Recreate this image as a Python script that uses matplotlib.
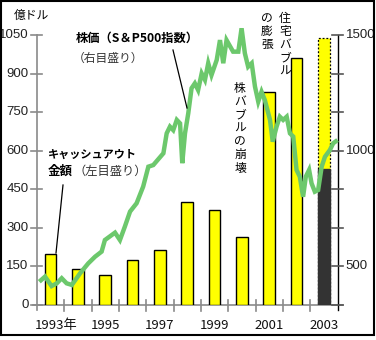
import matplotlib
matplotlib.use("Agg")
import matplotlib.pyplot as plt
from matplotlib.patches import Rectangle
from matplotlib.lines import Line2D

# --- data ---------------------------------------------------------------
years = [1993, 1994, 1995, 1996, 1997, 1998, 1999, 2000, 2001, 2002, 2003]
cashout = [200, 140, 115, 175, 215, 400, 370, 263, 830, 960, 530]   # 億ドル
cashout_2003_full = 1040                                              # 2003 full-year estimate

# S&P500 index (right scale), time as decimal year
sp_t = [1993.09, 1993.30, 1993.54, 1993.73, 1993.91, 1994.09, 1994.28, 1994.58,
        1994.88, 1995.13, 1995.37, 1995.49, 1995.86, 1996.04, 1996.22, 1996.41,
        1996.65, 1996.89, 1997.08, 1997.26, 1997.63, 1997.75, 1997.87, 1997.99,
        1998.12, 1998.24, 1998.32, 1998.42, 1998.54, 1998.66, 1998.78, 1998.90,
        1999.03, 1999.15, 1999.27, 1999.39, 1999.58, 1999.70, 1999.82, 1999.94,
        2000.18, 2000.37, 2000.49, 2000.61, 2000.73, 2000.86, 2000.98, 2001.10,
        2001.22, 2001.34, 2001.53, 2001.63, 2001.77, 2001.89, 2002.01, 2002.14,
        2002.26, 2002.38, 2002.50, 2002.62, 2002.74, 2002.84, 2002.96, 2003.05,
        2003.17, 2003.29, 2003.42, 2003.54, 2003.72, 2003.84, 2004.00]
sp_v = [434, 456, 415, 427, 449, 427, 420, 470,
        513, 542, 564, 614, 646, 614, 672, 737,
        773, 845, 931, 938, 989, 1075, 1104, 1089,
        1133, 1118, 946, 1075, 1162, 1270, 1291, 1262,
        1334, 1306, 1378, 1327, 1392, 1478, 1378, 1478,
        1428, 1428, 1529, 1421, 1363, 1378, 1277, 1212,
        1255, 1219, 1133, 1039, 1104, 1147, 1133, 1147,
        1075, 1061, 917, 888, 801, 888, 917, 859,
        823, 830, 931, 974, 1003, 1032, 1046]

left_ticks = [0, 150, 300, 450, 600, 750, 900, 1050]
right_labels = [500, 1000, 1500]
year_labels = ["1993年", "1995", "1997", "1999", "2001", "2003"]
year_label_pos = [1993.70, 1995.5, 1997.5, 1999.5, 2001.5, 2003.5]

# --- figure -------------------------------------------------------------
W, H = 376, 340
fig = plt.figure(figsize=(W / 100, H / 100), dpi=100)
fig.patch.set_facecolor("white")

X0, X1 = 33, 343      # pixel extent of the plot area
Y0, Y1 = 35, 305
ax = fig.add_axes([X0 / W, 1 - Y1 / H, (X1 - X0) / W, (Y1 - Y0) / H])
ax.set_xlim(1992.86, 2004.2)
ax.set_ylim(0, 1050)
ax.axis("off")

ax2 = ax.twinx()
ax2.set_ylim(333.33, 1500)
ax2.axis("off")

jp = ["Noto Sans CJK JP", "DejaVu Sans"]
narrow = ["Liberation Sans Narrow", "Liberation Sans", "DejaVu Sans"]

# axes lines
gray = "#8a8a8a"
ax.plot([1992.86, 2004.2], [0, 0], color=gray, lw=1.2, clip_on=False, zorder=1)
ax.plot([1993.0, 1993.0], [-20, 1050], color=gray, lw=1.2, clip_on=False, zorder=1)
ax.plot([2004.0, 2004.0], [-20, 1050], color="black", lw=1.0, clip_on=False, zorder=1)
for y in range(1994, 2004):
    ax.plot([y, y], [-22, 18], color=gray, lw=1.2, clip_on=False, zorder=1)
for v in left_ticks:
    ax.plot([1992.78, 1993.2], [v, v], color=gray, lw=1.2, clip_on=False, zorder=1)
    ax.text(1992.7, v, str(v), ha="right", va="center", fontsize=9.5,
            family=narrow, color="#222222")
for k in range(8):
    v = 333.33 + k * 1166.67 / 7
    ax2.plot([2003.8, 2004.2], [v, v], color="#555555", lw=1.2, clip_on=False, zorder=1)
for v in right_labels:
    ax2.text(2004.3, v, str(v), ha="left", va="center", fontsize=9.5,
             family=narrow, color="#222222")

# bars
bw = 0.42
for y, v in zip(years[:-1], cashout[:-1]):
    ax.bar(y + 0.5, v, width=bw, color="#FFFF00", edgecolor="black", lw=1.0, zorder=2)
# 2003: full-year estimate (dotted outline) + actual part
ax.bar(2003.5, cashout_2003_full, width=bw, color="#FFFF00", edgecolor="black",
       lw=0.9, linestyle=(0, (1.5, 1.5)), zorder=2)
ax.bar(2003.5, cashout[-1], width=bw, color="#333333", edgecolor="#333333", lw=1.0, zorder=3)

# S&P500 line
ax2.plot(sp_t, sp_v, color="#6CC86C", lw=3.2, solid_joinstyle="miter",
         solid_capstyle="butt", zorder=5, clip_on=False)

# x labels
for lab, x in zip(year_labels, year_label_pos):
    ax.text(x, -80, lab, ha="center", va="center", fontsize=9.5, family=jp,
            color="#111111")


def ftxt(x, y, s, **kw):
    fig.text(x / W, 1 - y / H, s, **kw)


ftxt(14, 15, "億ドル", ha="left", va="center", fontsize=8.5, family=jp)
ftxt(76, 38, "株価（S＆P500指数）", ha="left", va="center", fontsize=8.8,
     family=jp, weight="bold")
ftxt(73, 58, "（右目盛り）", ha="left", va="center", fontsize=8.5, family=jp,
     color="#333333")
ftxt(48, 154, "キャッシュアウト", ha="left", va="center",
     fontsize=8.0, family=jp, weight="bold")
ftxt(48, 171, "金額", ha="left", va="center", fontsize=9.0, family=jp, weight="bold")
ftxt(74, 171, "（左目盛り）", ha="left", va="center", fontsize=8.8, family=jp,
     color="#333333")


def vtext(x, y, s, size=8.5):
    ftxt(x, y, "\n".join(s), ha="center", va="top", fontsize=size, family=jp,
         linespacing=1.02)


vtext(285, 12, "住宅バブル")
vtext(267, 12, "の膨張")
vtext(240, 82, "株バブルの崩壊")

# leader lines
fig.add_artist(Line2D([173 / W, 187 / W], [1 - 50 / H, 1 - 108 / H],
                      color="black", lw=0.9))
fig.add_artist(Line2D([63 / W, 56 / W], [1 - 185 / H, 1 - 253 / H],
                      color="black", lw=0.9))

# outer frame
fig.add_artist(Rectangle((1 / W, 1 - 335 / H), 373 / W, 334 / H, fill=False,
                         edgecolor="black", lw=1.5, transform=fig.transFigure))

fig.savefig("out.png", dpi=100)
